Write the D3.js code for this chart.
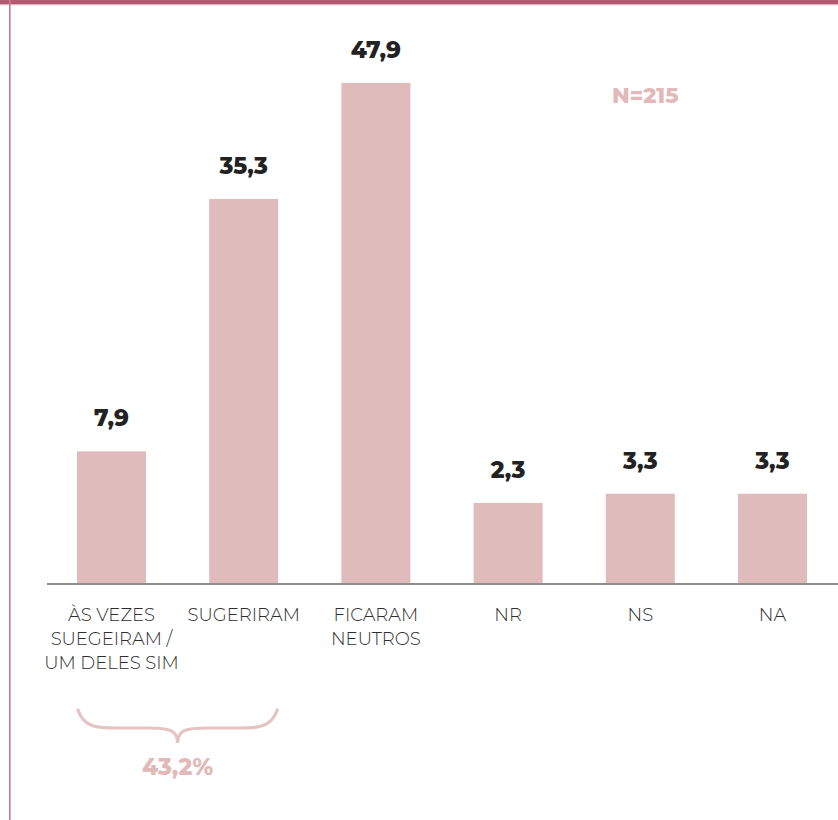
<!DOCTYPE html>
<html>
<head>
<meta charset="utf-8">
<script src="https://cdn.jsdelivr.net/npm/d3@7"></script>
<style>
  html, body { margin: 0; padding: 0; background: #ffffff; }
  svg { display: block; }
</style>
</head>
<body>
<svg id="chart" width="838" height="820"></svg>
<script>
const categories = ["ÀS VEZES SUEGEIRAM / UM DELES SIM", "SUGERIRAM", "FICARAM NEUTROS", "NR", "NS", "NA"];
const categoryLines = [["ÀS VEZES", "SUEGEIRAM /", "UM DELES SIM"], ["SUGERIRAM"], ["FICARAM", "NEUTROS"], ["NR"], ["NS"], ["NA"]];
const values = [7.9, 35.3, 47.9, 2.3, 3.3, 3.3];
const valueLabels = ["7,9", "35,3", "47,9", "2,3", "3,3", "3,3"];
const sampleLabel = "N=215";
const braceGroup = [0, 1];
const braceLabel = "43,2%";

(function () {
const svg = d3.select("#chart");
const W = 838, H = 820;
const baseY = 584;

const x = d3.scaleBand()
  .domain(categories)
  .range([45.4, 838.6])
  .paddingInner(0.478)
  .paddingOuter(0.239);

const y = d3.scaleLinear().domain([-6.5, 48]).range([baseY, 82]);

// Frame: top band and left rule
svg.append("rect").attr("x", 0).attr("y", 0).attr("width", W).attr("height", 4.5).attr("fill", "#b35a72");
svg.append("rect").attr("x", 0).attr("y", 4.5).attr("width", W).attr("height", 0.8).attr("fill", "#e8b9c6");
svg.append("rect").attr("x", 9).attr("y", 0).attr("width", 1.6).attr("height", H).attr("fill", "#c9799a");

const boldFont = "Montserrat, 'Noto Sans', Inter, sans-serif";
const lightFont = "Montserrat, Lato, 'Noto Sans', sans-serif";

// Bars
svg.append("g").selectAll("rect")
  .data(values)
  .join("rect")
  .attr("x", (d, i) => x(categories[i]))
  .attr("y", d => y(d))
  .attr("width", x.bandwidth())
  .attr("height", d => baseY - y(d))
  .attr("fill", "#e0bbbb");

// Baseline
svg.append("line")
  .attr("x1", 47).attr("x2", W)
  .attr("y1", baseY).attr("y2", baseY)
  .attr("stroke", "#8e8e8e").attr("stroke-width", 2);

// Value labels
svg.append("g").selectAll("text")
  .data(values)
  .join("text")
  .attr("x", (d, i) => x(categories[i]) + x.bandwidth() / 2)
  .attr("y", d => y(d) - 25)
  .attr("text-anchor", "middle")
  .attr("font-family", boldFont)
  .attr("font-weight", 800)
  .attr("font-size", 23)
  .attr("fill", "#222222")
  .text((d, i) => valueLabels[i]);

// Category labels
const catG = svg.append("g");
categories.forEach((c, i) => {
  const t = catG.append("text")
    .attr("x", x(c) + x.bandwidth() / 2)
    .attr("y", 621)
    .attr("text-anchor", "middle")
    .attr("font-family", lightFont)
    .attr("font-weight", 300)
    .attr("font-size", 18)
    .attr("fill", "#2e2e2e");
  categoryLines[i].forEach((ln, j) => {
    t.append("tspan").attr("x", x(c) + x.bandwidth() / 2).attr("y", 621 + j * 24).text(ln);
  });
});

// N label
svg.append("text")
  .attr("x", x(categories[4]) + x.bandwidth() / 2 + 5)
  .attr("y", 103)
  .attr("text-anchor", "middle")
  .attr("font-family", boldFont)
  .attr("font-weight", 800)
  .attr("font-size", 22)
  .attr("fill", "#e2b9b9")
  .text(sampleLabel);

// Brace
const bx0 = x(categories[braceGroup[0]]) + 1;
const bx1 = x(categories[braceGroup[1]]) + x.bandwidth() - 1;
const bm = (bx0 + bx1) / 2;
const yTop = 710, yMid = 728, yTip = 743;
const p = d3.path();
p.moveTo(bx0, yTop);
p.bezierCurveTo(bx0 + 6, yMid, bx0 + 20, yMid, bx0 + 40, yMid);
p.lineTo(bm - 30, yMid);
p.bezierCurveTo(bm - 8, yMid, bm, yMid + 2, bm, yTip);
p.bezierCurveTo(bm, yMid + 2, bm + 8, yMid, bm + 30, yMid);
p.lineTo(bx1 - 40, yMid);
p.bezierCurveTo(bx1 - 20, yMid, bx1 - 6, yMid, bx1, yTop);
svg.append("path")
  .attr("d", p.toString())
  .attr("fill", "none")
  .attr("stroke", "#e6c3c3")
  .attr("stroke-width", 3.2)
  .attr("stroke-linecap", "round");

svg.append("text")
  .attr("x", bm)
  .attr("y", 775)
  .attr("text-anchor", "middle")
  .attr("font-family", boldFont)
  .attr("font-weight", 800)
  .attr("font-size", 23)
  .attr("fill", "#e2b9b9")
  .text(braceLabel);
})();
</script>
</body>
</html>
